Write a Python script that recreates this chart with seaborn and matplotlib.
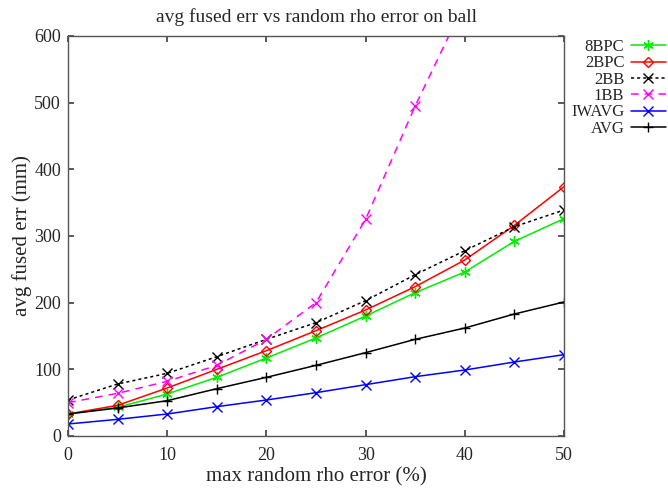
import matplotlib
matplotlib.use("Agg")
import matplotlib.pyplot as plt
import seaborn as sns
import pandas as pd

x = [0, 5, 10, 15, 20, 25, 30, 35, 40, 45, 50]
bpc8 = [33, 43, 63, 88, 117, 147, 180, 215, 246, 292, 326]
bpc2 = [33, 46, 72, 100, 128, 158, 189, 224, 264, 316, 374]
bb2 = [54, 78, 94, 119, 145, 170, 203, 242, 278, 314, 339]
x_1bb = [0, 5, 10, 15, 20, 25, 30, 35, 40]
bb1 = [50, 64, 82, 106, 145, 200, 325, 495, 650]
iwavg = [18, 25, 33, 44, 54, 65, 77, 89, 99, 111, 122]
avg = [33, 42, 53, 71, 88, 106, 125, 145, 162, 183, 201]

sns.set_theme(style="ticks")
plt.rcParams['font.family'] = ['Liberation Serif', 'DejaVu Serif']

fig = plt.figure(figsize=(6.68, 4.88), dpi=100)
ax = fig.add_axes([68/668, 52/488, 496/668, 400/488])

series = [
    ("8BPC", x, bpc8, "#00ee00", "-", (6, 2, 0), None),
    ("2BPC", x, bpc2, "#ff0000", "-", "D", "none"),
    ("2BB", x, bb2, "#000000", (0, (2, 2)), "x", None),
    ("1BB", x_1bb, bb1, "#ff00ff", (0, (5, 4)), "x", None),
    ("IWAVG", x, iwavg, "#0000ff", "-", "x", None),
    ("AVG", x, avg, "#000000", "-", "+", None),
]
for name, xs, ys, col, ls, mk, fc in series:
    df = pd.DataFrame({"x": xs, "y": ys})
    kw = dict(markersize=7.5 if mk != "D" else 5, markeredgewidth=1.0)
    if fc is not None:
        kw["markerfacecolor"] = fc
    sns.lineplot(data=df, x="x", y="y", ax=ax, color=col, linestyle=ls,
                 marker=mk, markeredgecolor=col, linewidth=1.1, label=name, **kw)

ax.set_xlim(0, 50)
ax.set_ylim(0, 600)
ax.set_xticks([0, 10, 20, 30, 40, 50])
ax.set_yticks([0, 100, 200, 300, 400, 500, 600])
ax.tick_params(direction="in", top=True, right=True, labelsize=13, length=4, color="#444444")
ax.tick_params(axis="x", pad=8)
ax.tick_params(axis="y", pad=5)
for s in ax.spines.values():
    s.set_color("#555555")
    s.set_linewidth(1.0)
ax.set_xlabel("max random rho error (%)", fontsize=15, labelpad=2)
ax.set_ylabel("avg fused err (mm)", fontsize=15, labelpad=1.5)
ax.set_title("avg fused err vs random rho error on ball", fontsize=14, pad=10)

leg = ax.legend(loc="upper right", bbox_to_anchor=(0.997, 0.92), bbox_transform=fig.transFigure,
                frameon=False, markerfirst=False, fontsize=12, handlelength=2.1,
                labelspacing=0.02, borderaxespad=0.0, borderpad=0.0, handletextpad=0.4)
for t in leg.get_texts():
    t.set_ha("right")

fig.savefig("out.png", dpi=100)
